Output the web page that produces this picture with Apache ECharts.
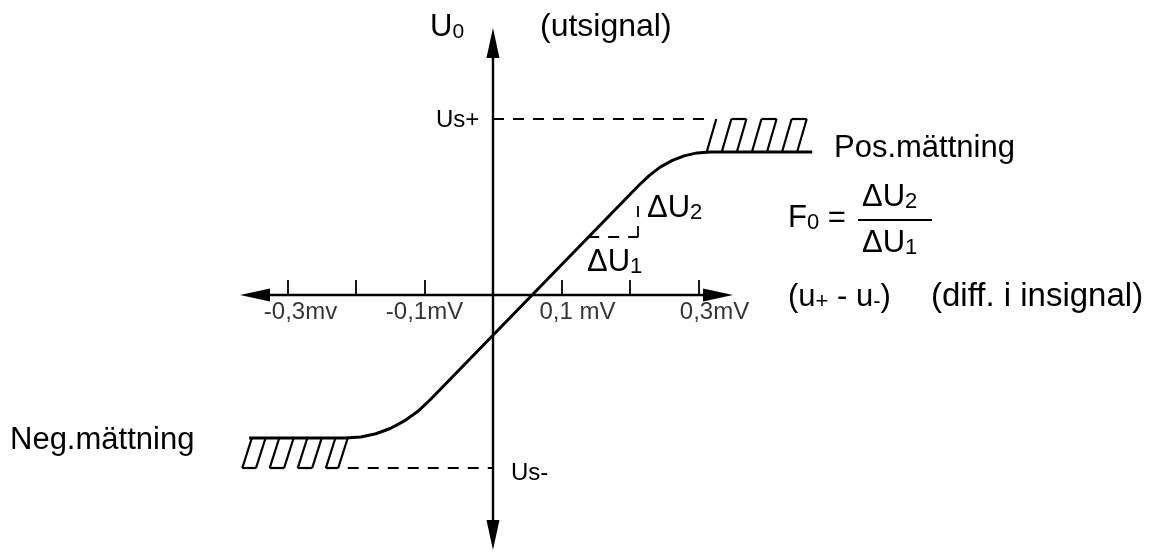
<!DOCTYPE html>
<html>
<head>
<meta charset="utf-8">
<title>Op-amp transfer characteristic</title>
<script src="https://cdn.jsdelivr.net/npm/echarts@6/dist/echarts.min.js"></script>
<style>
  html, body { margin: 0; padding: 0; background: #fff; }
  #chart { width: 1155px; height: 552px; }
</style>
</head>
<body>
<div id="chart"></div>
<script>
// input difference voltage (mV) against output (arbitrary units, us+ ~ 10)
const curveX = [-0.356, -0.216, -0.193, -0.171, -0.150, -0.130, -0.110, -0.092,
  0.212, 0.228, 0.244, 0.262, 0.279, 0.298, 0.317, 0.466]
const curveY = [-8.17, -8.17, -8.11, -7.93, -7.63, -7.21, -6.66, -6.0,
  6.23, 6.82, 7.31, 7.69, 7.95, 8.12, 8.17, 8.17]

const tickValues = [-0.3, -0.2, -0.1, 0.1, 0.2, 0.3]
const labelValues = [-0.3, -0.1, 0.1, 0.3]
const tickLabels = ['-0,3mv', '-0,1mV', '0,1 mV', '0,3mV']

const usPos = 10.06
const usNeg = -9.89
const plateauPos = 8.17
const plateauNeg = -8.17
const usPosTo = 0.309
const usNegFrom = -0.212

// hatch strokes: x where each stroke leaves the plateau line
const hatchTopX = [0.312, 0.334, 0.356, 0.378, 0.400, 0.422, 0.444]
const hatchBottomX = [-0.366, -0.346, -0.326, -0.305, -0.285, -0.264, -0.244, -0.226]

// gain triangle
const du1X = [0.139, 0.212]
const du2Y = [3.31, 5.43]

// axis extents (arrow heads sit centred on these ends)
const xMin = -0.3474
const xMax = 0.3285
const yMin = -13.714
const yMax = 14.4

// style only
const hatchSlant = 0.014
const labelShift = [13, 0, 16, 16]

let myChart = echarts.init(document.getElementById('chart'))

let curveData = curveX.map((x, i) => [x, curveY[i]])

let hatchLines = []
hatchTopX.forEach(x => {
  hatchLines.push({ coords: [[x, plateauPos], [x + hatchSlant, usPos]] })
})
for (let i = 1; i + 1 < hatchTopX.length; i += 2) {
  hatchLines.push({ coords: [[hatchTopX[i] + hatchSlant, usPos], [hatchTopX[i + 1] + hatchSlant, usPos]] })
}
hatchBottomX.forEach(x => {
  hatchLines.push({ coords: [[x, usNeg], [x + hatchSlant, plateauNeg]] })
})
for (let i = 0; i + 1 < hatchBottomX.length; i += 2) {
  hatchLines.push({ coords: [[hatchBottomX[i], usNeg], [hatchBottomX[i + 1], usNeg]] })
}

let dashed = [
  { coords: [[0, usPos], [usPosTo, usPos]] },
  { coords: [[usNegFrom, usNeg], [0, usNeg]] },
  { coords: [[du1X[0], du2Y[0]], [du1X[1], du2Y[0]]] },
  { coords: [[du1X[1], du2Y[0]], [du1X[1], du2Y[1]]] }
]

let labelData = labelValues.map((v, i) => ({
  value: [v, 0],
  label: { offset: [labelShift[i], 0] }
}))

const font = 'Liberation Sans, Arial, sans-serif'

function txt (x, y, text, size, rich) {
  let el = {
    type: 'text',
    x: x,
    y: y,
    style: {
      text: text,
      font: size + 'px ' + font,
      fill: '#000',
      align: 'left',
      verticalAlign: 'middle'
    }
  }
  if (rich) el.style.rich = rich
  return el
}

function subs (main, sub) {
  return {
    m: { fontSize: main, fontFamily: font, color: '#000' },
    s: { fontSize: sub, fontFamily: font, color: '#000', padding: [Math.round(main * 0.33), 0, 0, 0] }
  }
}

let option = {
  animation: false,
  grid: {
    left: 255,
    right: 1155 - 718,
    top: 43,
    bottom: 552 - 535
  },
  xAxis: {
    type: 'value',
    min: xMin,
    max: xMax,
    splitLine: { show: false },
    axisLine: {
      show: true,
      onZero: true,
      symbol: ['triangle', 'triangle'],
      symbolSize: [13, 30],
      lineStyle: { color: '#000', width: 2.4 }
    },
    axisTick: {
      show: true,
      inside: true,
      length: 15,
      customValues: tickValues,
      lineStyle: { color: '#000', width: 1.8 }
    },
    axisLabel: { show: false }
  },
  yAxis: {
    type: 'value',
    min: yMin,
    max: yMax,
    splitLine: { show: false },
    axisTick: { show: false },
    axisLabel: { show: false },
    axisLine: {
      show: true,
      onZero: true,
      symbol: ['triangle', 'triangle'],
      symbolSize: [13, 30],
      lineStyle: { color: '#000', width: 2.4 }
    }
  },
  series: [
    {
      // transfer curve, drawn as a polyline so the plateaus may run past the axis ends
      type: 'lines',
      coordinateSystem: 'cartesian2d',
      polyline: true,
      clip: false,
      data: [{ coords: curveData }],
      lineStyle: { color: '#000', width: 3, opacity: 1, join: 'round' },
      z: 5
    },
    {
      type: 'lines',
      coordinateSystem: 'cartesian2d',
      data: hatchLines,
      clip: false,
      lineStyle: { color: '#000', width: 2.2, opacity: 1 }
    },
    {
      type: 'lines',
      coordinateSystem: 'cartesian2d',
      data: dashed,
      clip: false,
      lineStyle: { color: '#000', width: 1.8, type: [11, 9], opacity: 1 }
    },
    {
      type: 'scatter',
      data: labelData,
      symbolSize: 0,
      clip: false,
      silent: true,
      label: {
        show: true,
        position: 'bottom',
        distance: 5,
        fontSize: 24,
        fontFamily: font,
        color: '#000',
        formatter: p => tickLabels[p.dataIndex]
      }
    }
  ],
  graphic: [
    txt(430, 27, '{m|U}{s|0}', 31, subs(31, 21)),
    txt(540, 27, '(utsignal)', 32),
    txt(436, 120, 'Us+', 24),
    txt(511, 473, 'Us-', 24),
    txt(834, 148, 'Pos.mättning', 31),
    txt(10, 440, 'Neg.mättning', 31),
    txt(647, 208, '{m|ΔU}{s|2}', 31, subs(31, 22)),
    txt(587, 262, '{m|ΔU}{s|1}', 31, subs(31, 22)),
    txt(788, 218, '{m|F}{s|0}{m| =}', 31, subs(31, 22)),
    txt(862, 197, '{m|ΔU}{s|2}', 31, subs(31, 22)),
    {
      type: 'line',
      shape: { x1: 858, y1: 220, x2: 932, y2: 220 },
      style: { stroke: '#000', lineWidth: 2.2 }
    },
    txt(862, 243, '{m|ΔU}{s|1}', 31, subs(31, 22)),
    txt(788, 297, '{m|(u}{s|+}{m| - u}{s|-}{m|)}', 31, subs(31, 22)),
    txt(931, 297, '(diff. i insignal)', 33)
  ]
}

myChart.setOption(option)
</script>
</body>
</html>
